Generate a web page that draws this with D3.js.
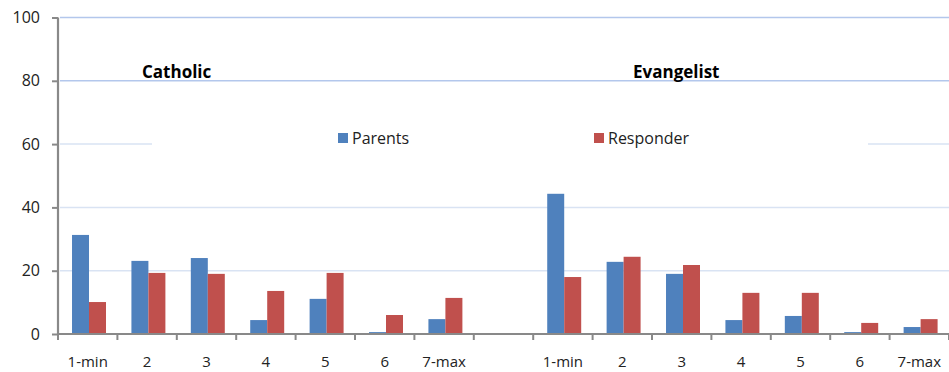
<!DOCTYPE html>
<html>
<head>
<meta charset="utf-8">
<script src="https://cdn.jsdelivr.net/npm/d3@7"></script>
<style>
  html, body { margin: 0; padding: 0; background: #fff; }
  svg { display: block; font-family: "Open Sans", sans-serif; }
</style>
</head>
<body>
<svg id="chart" width="949" height="372"></svg>
<script>
// Answer categories on the 1–7 scale, repeated for each denomination
const categories = ["1-min", "2", "3", "4", "5", "6", "7-max"];
const groups = ["Catholic", "Evangelist"];
const series = ["Parents", "Responder"];
const seriesColors = ["#4f81bd", "#c0504d"];

// Percentages per category
const catholicParents     = [31.3, 23.1, 24.0, 4.4, 11.1, 0.6, 4.7];
const catholicResponder   = [10.1, 19.3, 19.0, 13.6, 19.3, 6.0, 11.4];
const evangelistParents   = [44.3, 22.8, 19.0, 4.4, 5.7, 0.6, 2.2];
const evangelistResponder = [18.0, 24.4, 21.8, 13.0, 13.0, 3.5, 4.7];

const yTicks = [0, 20, 40, 60, 80, 100];

const W = 949, H = 372;
const plot = { left: 58, right: 949, top: 17.5, bottom: 334 };

// One slot per category, with an empty slot between the two groups
const slots = [];
groups.forEach((g, gi) => {
  categories.forEach(c => slots.push({ key: g + "|" + c, label: c, group: g }));
  if (gi < groups.length - 1) slots.push({ key: "gap", label: "", group: null });
});

const rows = [];
const values = {
  Catholic: [catholicParents, catholicResponder],
  Evangelist: [evangelistParents, evangelistResponder]
};
groups.forEach(g => {
  categories.forEach((c, ci) => {
    series.forEach((s, si) => {
      rows.push({ key: g + "|" + c, series: s, value: values[g][si][ci] });
    });
  });
});

const svg = d3.select("#chart");

const x = d3.scaleBand()
  .domain(slots.map(d => d.key))
  .range([plot.left, plot.right])
  .padding(0);
const bw = x.bandwidth();
const x1 = d3.scaleBand()
  .domain(series)
  .range([bw * 0.236, bw * 0.808]);

const y = d3.scaleLinear()
  .domain([0, 100])
  .range([plot.bottom, plot.top]);

const color = d3.scaleOrdinal().domain(series).range(seriesColors);

// Horizontal gridlines
svg.append("g")
  .selectAll("line")
  .data(yTicks.filter(t => t > 0))
  .join("line")
  .attr("x1", plot.left + 2)
  .attr("x2", plot.right)
  .attr("y1", d => y(d))
  .attr("y2", d => y(d))
  .attr("stroke", d => d >= 80 ? "#b3c7ec" : "#d9e3f3")
  .attr("stroke-width", 1.5);

// Group titles
const titlePos = { Catholic: 142, Evangelist: 633 };
svg.append("g")
  .selectAll("text")
  .data(groups)
  .join("text")
  .attr("x", d => titlePos[d])
  .attr("y", 78)
  .attr("font-size", 17)
  .attr("font-weight", "bold")
  .attr("fill", "#000")
  .text(d => d);

// Legend with a white backing box
const legend = svg.append("g");
legend.append("rect")
  .attr("x", 152).attr("y", 122)
  .attr("width", 868 - 152).attr("height", 34)
  .attr("fill", "#fff");
const legendPos = [338, 594];
const li = legend.selectAll("g.item")
  .data(series)
  .join("g")
  .attr("class", "item")
  .attr("transform", (d, i) => `translate(${legendPos[i]},133)`);
li.append("rect")
  .attr("width", 10).attr("height", 10)
  .attr("fill", d => color(d));
li.append("text")
  .attr("x", 14).attr("y", 10.5)
  .attr("font-size", 16)
  .attr("fill", "#222")
  .text(d => d);

// Bars
svg.append("g")
  .selectAll("rect")
  .data(rows)
  .join("rect")
  .attr("x", d => x(d.key) + x1(d.series))
  .attr("y", d => y(d.value))
  .attr("width", x1.bandwidth())
  .attr("height", d => y(0) - y(d.value))
  .attr("fill", d => color(d.series));

// Y axis
const yAxis = svg.append("g")
  .attr("transform", `translate(${plot.left},0)`)
  .call(d3.axisLeft(y).tickValues(yTicks).tickSize(6).tickPadding(12));
yAxis.select(".domain").remove();
yAxis.selectAll(".tick line").attr("stroke", "#898989").attr("stroke-width", 2);
yAxis.selectAll(".tick text")
  .attr("font-family", "Open Sans, sans-serif")
  .attr("font-size", 16)
  .attr("fill", "#222");
yAxis.append("line")
  .attr("x1", 0).attr("x2", 0)
  .attr("y1", plot.top).attr("y2", plot.bottom + 1)
  .attr("stroke", "#898989").attr("stroke-width", 2.2);

// X axis: labels centred in each slot, ticks at slot boundaries
const xAxis = svg.append("g")
  .attr("transform", `translate(0,${plot.bottom})`)
  .call(d3.axisBottom(x).tickSize(0).tickPadding(22)
    .tickFormat(k => (slots.find(s => s.key === k) || {}).label || ""));
xAxis.select(".domain").remove();
xAxis.selectAll(".tick text")
  .attr("font-family", "Open Sans, sans-serif")
  .attr("font-size", 15)
  .attr("fill", "#222");
xAxis.append("line")
  .attr("x1", plot.left - 1).attr("x2", plot.right)
  .attr("y1", 0).attr("y2", 0)
  .attr("stroke", "#898989").attr("stroke-width", 2.2);
xAxis.selectAll("line.bound")
  .data(d3.range(slots.length + 1))
  .join("line")
  .attr("class", "bound")
  .attr("x1", i => plot.left + i * bw)
  .attr("x2", i => plot.left + i * bw)
  .attr("y1", 0).attr("y2", 6)
  .attr("stroke", "#898989").attr("stroke-width", 2);
</script>
</body>
</html>
